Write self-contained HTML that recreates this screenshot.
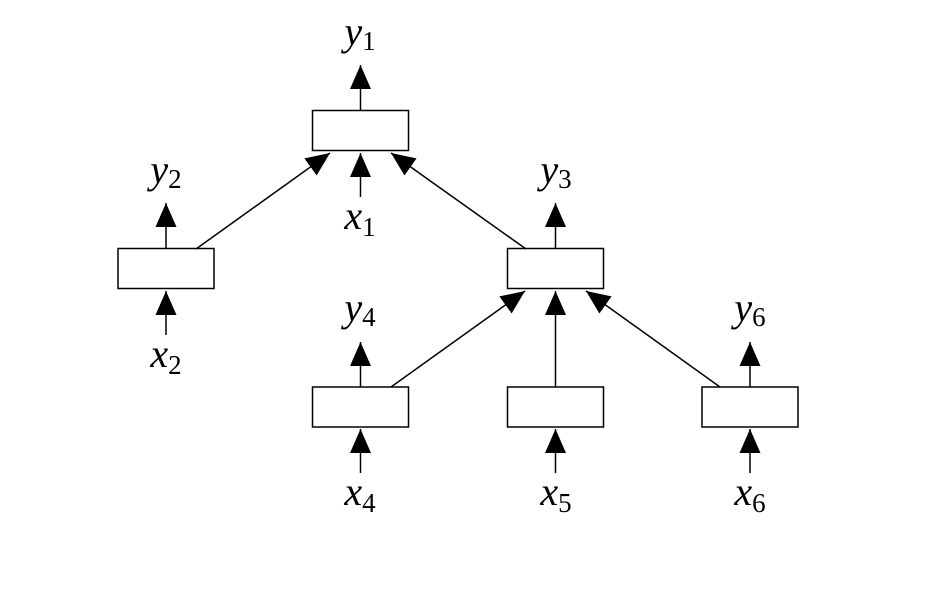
<!DOCTYPE html>
<html><head><meta charset="utf-8"><style>html,body{margin:0;padding:0;background:#fff}</style></head>
<body>
<svg width="937" height="588" viewBox="0 0 937 588" xmlns="http://www.w3.org/2000/svg">
<defs>
<marker id="a" viewBox="0 0 24 21" refX="24" refY="10.5" markerWidth="24" markerHeight="21" markerUnits="userSpaceOnUse" orient="auto">
<path d="M0,0 L24,10.5 L0,21 z" fill="#000"/>
</marker>
</defs>
<g fill="#fff" stroke="#000" stroke-width="1.5">
<rect x="312.5" y="110.5" width="96" height="40"/>
<rect x="118" y="248.5" width="96" height="40"/>
<rect x="507.5" y="248.5" width="96" height="40"/>
<rect x="312.5" y="387" width="96" height="40"/>
<rect x="507.5" y="387" width="96" height="40"/>
<rect x="702" y="387" width="96" height="40"/>
</g>
<g stroke="#000" stroke-width="1.5" marker-end="url(#a)">
<line x1="360.5" y1="110" x2="360.5" y2="65"/>
<line x1="360.5" y1="197" x2="360.5" y2="153"/>
<line x1="166" y1="248" x2="166" y2="203"/>
<line x1="166" y1="335" x2="166" y2="291"/>
<line x1="555.5" y1="248" x2="555.5" y2="203"/>
<line x1="360.5" y1="387" x2="360.5" y2="342"/>
<line x1="750" y1="387" x2="750" y2="342"/>
<line x1="360.5" y1="473" x2="360.5" y2="429"/>
<line x1="555.5" y1="473" x2="555.5" y2="429"/>
<line x1="750" y1="473" x2="750" y2="429"/>
<line x1="196" y1="249" x2="330" y2="153"/>
<line x1="526" y1="249" x2="391" y2="153"/>
<line x1="391" y1="387" x2="525" y2="291"/>
<line x1="555.5" y1="387" x2="555.5" y2="291"/>
<line x1="720" y1="387" x2="586" y2="291"/>
</g>
<g font-family="Liberation Serif, serif" font-size="40" fill="#000" text-anchor="middle">
<text x="360" y="45"><tspan font-style="italic">y</tspan><tspan font-size="27" dy="5">1</tspan></text>
<text x="166" y="183"><tspan font-style="italic">y</tspan><tspan font-size="27" dy="5">2</tspan></text>
<text x="556" y="183"><tspan font-style="italic">y</tspan><tspan font-size="27" dy="5">3</tspan></text>
<text x="360" y="321"><tspan font-style="italic">y</tspan><tspan font-size="27" dy="5">4</tspan></text>
<text x="750" y="321"><tspan font-style="italic">y</tspan><tspan font-size="27" dy="5">6</tspan></text>
<text x="360" y="229"><tspan font-style="italic">x</tspan><tspan font-size="27" dy="7">1</tspan></text>
<text x="166" y="367"><tspan font-style="italic">x</tspan><tspan font-size="27" dy="7">2</tspan></text>
<text x="360" y="505"><tspan font-style="italic">x</tspan><tspan font-size="27" dy="7">4</tspan></text>
<text x="556" y="505"><tspan font-style="italic">x</tspan><tspan font-size="27" dy="7">5</tspan></text>
<text x="750" y="505"><tspan font-style="italic">x</tspan><tspan font-size="27" dy="7">6</tspan></text>
</g>
</svg>
</body></html>
